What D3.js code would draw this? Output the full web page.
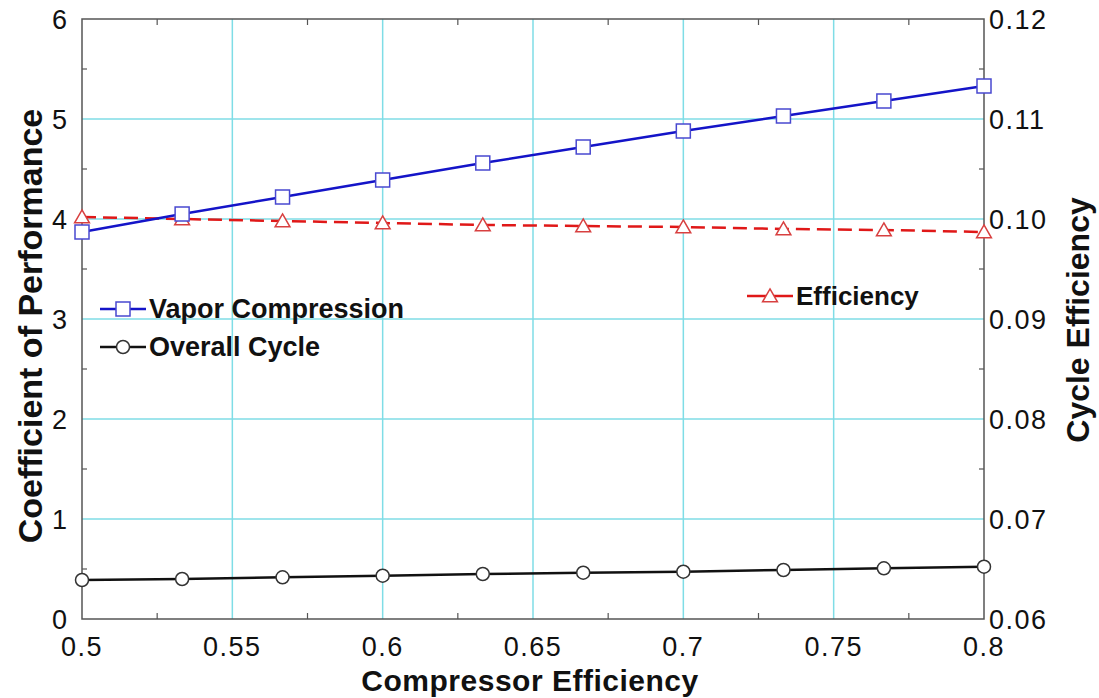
<!DOCTYPE html>
<html>
<head>
<meta charset="utf-8">
<script src="https://cdn.jsdelivr.net/npm/d3@7"></script>
<style>
  body { margin: 0; background: #fff; }
  svg { display: block; font-family: Arial, "Liberation Sans", sans-serif; }
</style>
</head>
<body>
<svg id="chart" width="1099" height="698"></svg>
<script>
// Compressor efficiency sweep
const compressorEff = [0.5, 0.5333, 0.5667, 0.6, 0.6333, 0.6667, 0.7, 0.7333, 0.7667, 0.8];
// Coefficient of performance (left axis)
const copVapor   = [3.87, 4.05, 4.22, 4.39, 4.56, 4.72, 4.88, 5.03, 5.18, 5.33];
const copOverall = [0.39, 0.40, 0.417, 0.433, 0.45, 0.463, 0.473, 0.49, 0.507, 0.523];
// Cycle efficiency (right axis)
const cycleEff   = [0.1002, 0.1000, 0.0998, 0.0996, 0.0994, 0.0993, 0.0992, 0.0990, 0.0989, 0.0987];

const xTicks = [0.5, 0.55, 0.6, 0.65, 0.7, 0.75, 0.8];
const yTicks = [0, 1, 2, 3, 4, 5, 6];
const y2Ticks = [0.06, 0.07, 0.08, 0.09, 0.10, 0.11, 0.12];

const svg = d3.select("#chart");
const m = { left: 82, right: 984, top: 19, bottom: 619 };

const x = d3.scaleLinear().domain([0.5, 0.8]).range([m.left, m.right]);
const y = d3.scaleLinear().domain([0, 6]).range([m.bottom, m.top]);
const y2 = d3.scaleLinear().domain([0.06, 0.12]).range([m.bottom, m.top]);

const gridColor = "#7fdde6";
const frameColor = "#555";

// grid lines
const grid = svg.append("g");
xTicks.slice(1, -1).forEach(t => {
  grid.append("line").attr("x1", x(t)).attr("x2", x(t)).attr("y1", m.top).attr("y2", m.bottom)
    .attr("stroke", gridColor).attr("stroke-width", 1.5);
});
yTicks.slice(1, -1).forEach(t => {
  grid.append("line").attr("x1", m.left).attr("x2", m.right).attr("y1", y(t)).attr("y2", y(t))
    .attr("stroke", gridColor).attr("stroke-width", 1.5);
});

// minor ticks (inward)
const minorX = d3.range(0.525, 0.8, 0.05);
const minorY = d3.range(0.5, 6, 1);
const ticks = svg.append("g").attr("stroke", frameColor).attr("stroke-width", 1.2);
minorX.forEach(t => {
  ticks.append("line").attr("x1", x(t)).attr("x2", x(t)).attr("y1", m.bottom).attr("y2", m.bottom - 6);
  ticks.append("line").attr("x1", x(t)).attr("x2", x(t)).attr("y1", m.top).attr("y2", m.top + 6);
});
minorY.forEach(t => {
  ticks.append("line").attr("x1", m.left).attr("x2", m.left + 5).attr("y1", y(t)).attr("y2", y(t));
  ticks.append("line").attr("x1", m.right).attr("x2", m.right - 5).attr("y1", y(t)).attr("y2", y(t));
});

// frame
svg.append("rect").attr("x", m.left).attr("y", m.top)
  .attr("width", m.right - m.left).attr("height", m.bottom - m.top)
  .attr("fill", "none").attr("stroke", frameColor).attr("stroke-width", 1.5);

// tick labels
const tickFont = 27, tickSpacing = "1.5px";
svg.append("g").selectAll("text").data(xTicks).join("text")
  .attr("x", d => x(d)).attr("y", 656)
  .attr("text-anchor", "middle").attr("font-size", tickFont).attr("letter-spacing", tickSpacing)
  .attr("fill", "#111")
  .text(d => d3.format("")(d));
svg.append("g").selectAll("text").data(yTicks).join("text")
  .attr("x", 67).attr("y", d => y(d) + 10)
  .attr("text-anchor", "end").attr("font-size", tickFont).attr("fill", "#111")
  .text(d => d);
svg.append("g").selectAll("text").data(y2Ticks).join("text")
  .attr("x", 989).attr("y", d => y2(d) + 10)
  .attr("text-anchor", "start").attr("font-size", tickFont).attr("letter-spacing", tickSpacing)
  .attr("fill", "#111")
  .text(d => d3.format(".2f")(d));

// axis titles
svg.append("text").attr("x", 530).attr("y", 691).attr("text-anchor", "middle")
  .attr("font-size", 30).attr("font-weight", "bold").attr("letter-spacing", "0.5px").attr("fill", "#111")
  .text("Compressor Efficiency");
svg.append("text").attr("transform", `translate(42,326) rotate(-90)`)
  .attr("text-anchor", "middle").attr("font-size", 34).attr("font-weight", "bold").attr("fill", "#111")
  .text("Coefficient of Performance");
svg.append("text").attr("transform", `translate(1089,320) rotate(-90)`)
  .attr("text-anchor", "middle").attr("font-size", 32).attr("font-weight", "bold").attr("fill", "#111")
  .text("Cycle Efficiency");

// series
const blue = "#1414c8", blueMark = "#4848d0";
const red = "#e01818", redMark = "#d84040";

const lineVapor = d3.line().x((d, i) => x(compressorEff[i])).y(d => y(d));
const lineEff = d3.line().x((d, i) => x(compressorEff[i])).y(d => y2(d));

svg.append("path").datum(cycleEff).attr("d", lineEff)
  .attr("fill", "none").attr("stroke", red).attr("stroke-width", 2.5).attr("stroke-dasharray", "14,7");
svg.append("path").datum(copVapor).attr("d", lineVapor)
  .attr("fill", "none").attr("stroke", blue).attr("stroke-width", 2.5);
svg.append("path").datum(copOverall).attr("d", lineVapor)
  .attr("fill", "none").attr("stroke", "#111").attr("stroke-width", 2.5);

const triPath = d3.symbol().type(d3.symbolTriangle).size(95);
function triangle(g, cx, cy) {
  g.append("path").attr("d", triPath()).attr("transform", `translate(${cx},${cy + 1.5})`)
    .attr("fill", "#fff").attr("stroke", redMark).attr("stroke-width", 1.5);
}
function square(g, cx, cy) {
  g.append("rect").attr("x", cx - 7).attr("y", cy - 7).attr("width", 14).attr("height", 14)
    .attr("fill", "#fff").attr("stroke", blueMark).attr("stroke-width", 1.5);
}
function circle(g, cx, cy) {
  g.append("circle").attr("cx", cx).attr("cy", cy).attr("r", 6.5)
    .attr("fill", "#fff").attr("stroke", "#333").attr("stroke-width", 1.5);
}

const marks = svg.append("g");
cycleEff.forEach((v, i) => triangle(marks, x(compressorEff[i]), y2(v)));
copVapor.forEach((v, i) => square(marks, x(compressorEff[i]), y(v)));
copOverall.forEach((v, i) => circle(marks, x(compressorEff[i]), y(v)));

// legends
const leg = svg.append("g");
function legendItem(x0, y0, color, width, dash, marker, label, size) {
  leg.append("line").attr("x1", x0).attr("x2", x0 + 46).attr("y1", y0).attr("y2", y0)
    .attr("stroke", color).attr("stroke-width", width).attr("stroke-dasharray", dash);
  marker(leg, x0 + 23, y0);
  leg.append("text").attr("x", x0 + 49).attr("y", y0 + 9)
    .attr("font-size", size).attr("font-weight", "bold").attr("fill", "#111").text(label);
}
legendItem(100, 309, blue, 2.5, null, square, "Vapor Compression", 27);
legendItem(100, 347, "#111", 2.5, null, circle, "Overall Cycle", 27);
legendItem(747, 296, red, 2.5, null, triangle, "Efficiency", 26);
</script>
</body>
</html>
